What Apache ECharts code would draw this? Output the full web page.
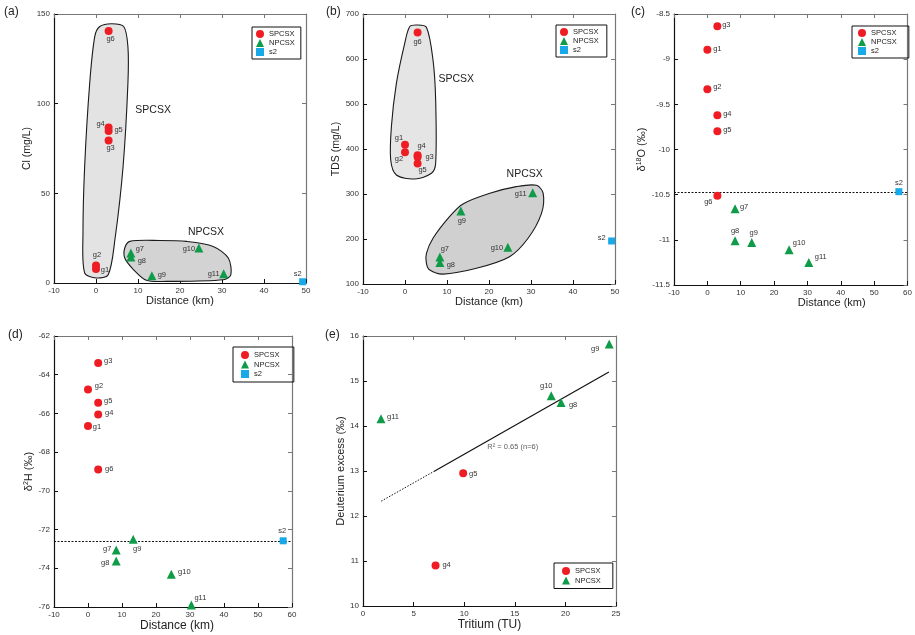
<!DOCTYPE html>
<html><head><meta charset="utf-8">
<script src="https://cdn.jsdelivr.net/npm/echarts@6/dist/echarts.min.js"></script>
<style>html,body{margin:0;padding:0;background:#fff}#c{width:915px;height:635px}</style>
</head><body><div id="c"></div>
<script>
// ---------------- data ----------------
const samplesS = ['g1','g2','g3','g4','g5','g6'];
const samplesN = ['g7','g8','g9','g10','g11'];
const distS = [0, 0, 3.0, 3.0, 3.0, 3.0];
const distN = [8.3, 8.3, 13.3, 24.5, 30.4];
const distS2ab = 49.2;   // s2 as drawn in (a),(b)
const distS2cd = 57.4;   // s2 as drawn in (c),(d)

const clS = [7.8, 9.8, 79.5, 86.7, 84.8, 140.5];
const clN = [16.7, 14.5, 4.1, 19.5, 5.2];
const clS2 = 0.7;

const tdsS = [409.6, 392.7, 382, 386, 368, 659];
const tdsN = [160, 148, 262, 181.5, 303];
const tdsS2 = 195.6;

const d18oS = [-8.895, -9.334, -8.636, -9.622, -9.799, -10.511];
const d18oN = [-10.655, -11.01, -11.03, -11.11, -11.25];
const d18oS2 = -10.467;

const d2hS = [-66.65, -64.76, -63.40, -66.05, -65.45, -68.9];
const d2hN = [-73.05, -73.63, -72.5, -74.31, -75.9];
const d2hS2 = -72.58;

const triSamplesS = ['g4','g5'];
const tritiumS = [7.17, 9.9];
const dexS = [10.9, 12.95];
const triSamplesN = ['g8','g9','g10','g11'];
const tritiumN = [19.57, 24.33, 18.6, 1.78];
const dexN = [14.52, 15.82, 14.67, 14.16];
const trendX = [1.8, 7.0, 24.3];
const trendY = [12.33, 12.99, 15.2];
const trendText = 'R\u00b2 = 0.65 (n=6)';
const trendTextAt = [14.8, 13.53];

// group outlines (data units)
const hullSA = [[0.9,143],[3.7,144.6],[6.6,143],[7.6,131.8],[7.6,111.4],[6.45,65],[4.5,24.1],[2.9,4.6],[0.1,2.8],[-2.7,5.6],[-3.1,27.9],[-2.7,65],[-1.5,111.4],[-0.3,137.4]];
const hullNA = [[8.05,23.2],[15.2,23.7],[21.6,23.2],[27.9,20.4],[31.5,13.9],[32.1,4.6],[30.3,1.8],[16.8,0.9],[12.0,1.5],[8.8,7.8],[6.85,13.9],[6.85,19.5]];
const hullSB = [[1.12,671.8],[2.86,675.6],[5.1,670.4],[6.67,597.8],[7.3,508.9],[7.3,368.2],[6.3,346],[2.3,333.3],[-2.05,342.2],[-3.4,375.6],[-3.24,449.6],[-2.05,546],[-0.07,634.9]];
const hullNB = [[5.1,146],[5.9,131],[9.05,122],[17,134.9],[24.9,160.7],[29.3,201.6],[32.5,257],[32.9,301.5],[31.3,319.3],[26.5,316.3],[20.2,301.5],[13.8,277.8],[10.6,249.6],[6.67,201.6],[5.1,168.2]];
const groupNames = ['SPCSX','NPCSX'];
const hullTextA = [[13.6,96.5],[26.2,28.4]];
const hullTextB = [[12.2,555.6],[28.5,345]];

// ---------------- styles ----------------
const FONT = "'Liberation Sans', Arial, sans-serif";
const RED = '#ee1d23', GREEN = '#0f9b48', BLUE = '#18a9e8';
const offA = {S:[[9,1],[1,-10],[2,8],[-8,-4],[10,-1],[2,8]], N:[[9,-4],[11,4],[10,-1],[-10,1],[-10,0]], s2:[-5,-8]};
const offB = {S:[[-6,-7],[-6,7],[12,0],[4,-9],[5,7],[0,9]], N:[[5,-8],[11,3],[1,10],[-11,1],[-12,1]], s2:[-10,-3]};
const offC = {S:[[10,-1],[10,-2],[9,-1],[10,-1],[10,-1],[-9,6]], N:[[9,-2],[0,-10],[2,-10],[10,-7],[12,-5]], s2:[0,-9]};
const offD = {S:[[9,1],[11,-3],[10,-2],[11,-1],[10,-2],[11,-1]], N:[[-9,-1],[-11,2],[4,10],[13,-2],[9,-7]], s2:[-1,-10]};
const offE = {S:[[11,-1],[10,1]], N:[[12,2],[-14,5],[-5,-10],[12,-2]]};

const grids = [
  {left:54, top:14, width:252, height:269},
  {left:363, top:14, width:252, height:270},
  {left:674, top:14, width:238, height:271},
  {left:54, top:336, width:238, height:271},
  {left:363, top:336, width:253, height:270}
];

function xAxes(g, min, max, interval, name, nameSize, nameGap, namePad) {
  return [{
    type:'value', gridIndex:g, position:'bottom', min, max, interval,
    name, nameLocation:'middle', nameGap,
    nameTextStyle:{fontSize:nameSize, color:'#222', fontFamily:FONT, padding:namePad||0},
    axisLine:{show:true, onZero:false, lineStyle:{color:'#111', width:1.2}},
    axisTick:{show:true, inside:true, length:4, lineStyle:{color:'#111'}},
    axisLabel:{show:true, fontSize:8, color:'#333', margin:4, fontFamily:FONT, showMinLabel:true, showMaxLabel:true},
    splitLine:{show:false}
  },{
    type:'value', gridIndex:g, position:'top', min, max, interval,
    axisLine:{show:true, onZero:false, lineStyle:{color:'#777', width:1.2}},
    axisTick:{show:true, inside:true, length:4, lineStyle:{color:'#777'}},
    axisLabel:{show:false}, splitLine:{show:false}
  }];
}
function yAxes(g, min, max, interval, name, nameSize, nameGap, rich) {
  return [{
    type:'value', gridIndex:g, position:'left', min, max, interval,
    name, nameLocation:'middle', nameGap, nameRotate:90,
    nameTextStyle:{fontSize:nameSize, color:'#222', fontFamily:FONT, rich:rich},
    axisLine:{show:true, onZero:false, lineStyle:{color:'#111', width:1.2}},
    axisTick:{show:true, inside:true, length:4, lineStyle:{color:'#111'}},
    axisLabel:{show:true, fontSize:8, color:'#333', margin:4, fontFamily:FONT, showMinLabel:true, showMaxLabel:true},
    splitLine:{show:false}
  },{
    type:'value', gridIndex:g, position:'right', min, max, interval,
    axisLine:{show:true, onZero:false, lineStyle:{color:'#777', width:1.2}},
    axisTick:{show:true, inside:true, length:4, lineStyle:{color:'#777'}},
    axisLabel:{show:false}, splitLine:{show:false}
  }];
}

const labelBase = {show:true, position:'inside', formatter:'{b}', fontSize:7.5, color:'#333', fontFamily:FONT, textBorderWidth:0};

function pts(names, xs, ys, offs) {
  return names.map((n,i) => ({name:n, value:[xs[i], ys[i]], label:{offset:offs[i]}}));
}
function scatterS(g, data) {
  return {type:'scatter', name:'SPCSX', xAxisIndex:2*g, yAxisIndex:2*g, symbol:'circle', symbolSize:8,
    itemStyle:{color:RED, opacity:1}, label:labelBase, data, z:5};
}
function scatterN(g, data) {
  return {type:'scatter', name:'NPCSX', xAxisIndex:2*g, yAxisIndex:2*g, symbol:'triangle', symbolSize:9,
    itemStyle:{color:GREEN, opacity:1}, label:labelBase, data, z:5};
}
function scatterS2(g, x, y, off, refLine) {
  const s = {type:'scatter', name:'s2', xAxisIndex:2*g, yAxisIndex:2*g, symbol:'rect', symbolSize:7,
    itemStyle:{color:BLUE, opacity:1}, label:labelBase, data:[{name:'s2', value:[x,y], label:{offset:off}}], z:5};
  if (refLine) {
    s.markLine = {silent:true, symbol:['none','none'], label:{show:false},
      lineStyle:{color:'#111', type:[2,1.5], width:1}, emphasis:{disabled:true},
      data:[{yAxis:y}]};
  }
  return s;
}
function hull(g, outline, fill, textPos, text) {
  return {type:'custom', name:'hull'+g+text, xAxisIndex:2*g, yAxisIndex:2*g, silent:true, z:1,
    data:[outline[0]],
    renderItem:(params, api) => {
      const p = outline.map(q => api.coord(q));
      const t = api.coord(textPos);
      return {type:'group', children:[
        {type:'polygon', shape:{points:p, smooth:0.3}, style:{fill, stroke:'#1a1a1a', lineWidth:1.1}},
        {type:'text', x:t[0], y:t[1], style:{text, fontSize:10.5, fill:'#222', font:'10.5px '+FONT, align:'center', verticalAlign:'middle'}}
      ]};
    }};
}
function legend(left, top, names, pad, gap) {
  return {show:true, left, top, orient:'vertical', data:names, itemWidth:8, itemHeight:8, itemGap:gap,
    borderColor:'#111', borderWidth:1, padding:pad, borderRadius:0, selectedMode:false,
    textStyle:{fontSize:7.5, color:'#222', fontFamily:FONT}};
}

const xA = [].concat(
  xAxes(0,-10,50,10,'Distance (km)',11,12),
  xAxes(1,-10,50,10,'Distance (km)',11,12),
  xAxes(2,-10,60,10,'Distance (km)',11,12,[0,0,0,82]),
  xAxes(3,-10,60,10,'Distance (km)',12,11,[0,0,0,8]),
  xAxes(4,0,25,5,'Tritium (TU)',12,11)
);
const supRich = {a:{fontSize:11, color:'#222', fontFamily:FONT}, s:{fontSize:7, color:'#222', fontFamily:FONT, padding:[0,0,6,0]}};
const yA = [].concat(
  yAxes(0,0,150,50,'Cl (mg/L)',10.5,16),
  yAxes(1,100,700,100,'TDS (mg/L)',10.5,21.5),
  yAxes(2,-11.5,-8.5,0.5,'{a|\u03b4}{s|18}{a|O (\u2030)}',11,20,supRich),
  yAxes(3,-76,-62,2,'{a|\u03b4}{s|2}{a|H (\u2030)}',11,16.5,supRich),
  yAxes(4,10,16,1,'Deuterium excess (\u2030)',11,16)
);

const series = [
  hull(0, hullSA, '#e3e3e3', hullTextA[0], groupNames[0]),
  hull(0, hullNA, '#d3d3d3', hullTextA[1], groupNames[1]),
  scatterS(0, pts(samplesS, distS, clS, offA.S)),
  scatterN(0, pts(samplesN, distN, clN, offA.N)),
  scatterS2(0, distS2ab, clS2, offA.s2, false),

  hull(1, hullSB, '#e5e5e5', hullTextB[0], groupNames[0]),
  hull(1, hullNB, '#d0d0d0', hullTextB[1], groupNames[1]),
  scatterS(1, pts(samplesS, distS, tdsS, offB.S)),
  scatterN(1, pts(samplesN, distN, tdsN, offB.N)),
  scatterS2(1, distS2ab, tdsS2, offB.s2, false),

  scatterS(2, pts(samplesS, distS, d18oS, offC.S)),
  scatterN(2, pts(samplesN, distN, d18oN, offC.N)),
  scatterS2(2, distS2cd, d18oS2, offC.s2, true),

  scatterS(3, pts(samplesS, distS, d2hS, offD.S)),
  scatterN(3, pts(samplesN, distN, d2hN, offD.N)),
  scatterS2(3, distS2cd, d2hS2, offD.s2, true),

  {type:'line', name:'trendDotted', xAxisIndex:8, yAxisIndex:8, showSymbol:false, silent:true, z:3,
    lineStyle:{color:'#111', width:1, type:[1.5,1.5]},
    data:[[trendX[0],trendY[0]],[trendX[1],trendY[1]]]},
  {type:'line', name:'trendSolid', xAxisIndex:8, yAxisIndex:8, showSymbol:false, silent:true, z:3,
    lineStyle:{color:'#111', width:1.2},
    data:[[trendX[1],trendY[1]],[trendX[2],trendY[2]]]},
  {type:'scatter', name:'trendLabel', xAxisIndex:8, yAxisIndex:8, symbolSize:0, silent:true,
    label:{show:true, position:'inside', formatter:trendText, fontSize:7.5, color:'#333', fontFamily:FONT},
    data:[trendTextAt]},
  scatterS(4, pts(triSamplesS, tritiumS, dexS, offE.S)),
  scatterN(4, pts(triSamplesN, tritiumN, dexN, offE.N))
];

const panelLabels = [['(a)',4,6],['(b)',326,6],['(c)',631,6],['(d)',8,329],['(e)',325,329]];

const chart = echarts.init(document.getElementById('c'), null, {renderer:'canvas'});
chart.setOption({
  animation:false,
  backgroundColor:'#fff',
  grid: grids,
  xAxis: xA,
  yAxis: yA,
  legend: [
    legend(252, 27, ['SPCSX','NPCSX','s2'], [3,6,3,4], 1),
    legend(556, 25, ['SPCSX','NPCSX','s2'], [3,8,3,4], 1),
    legend(852, 26, ['SPCSX','NPCSX','s2'], [3,12,3,6], 1),
    legend(233, 347, ['SPCSX','NPCSX','s2'], [4,14,4,8], 1.5),
    legend(554, 563, ['SPCSX','NPCSX'], [4,12,4,8], 1.5)
  ],
  graphic: panelLabels.map(p => ({type:'text', left:p[1], top:p[2],
    style:{text:p[0], fontSize:12, fill:'#222', font:'12px '+FONT}})),
  series
});
</script></body></html>
